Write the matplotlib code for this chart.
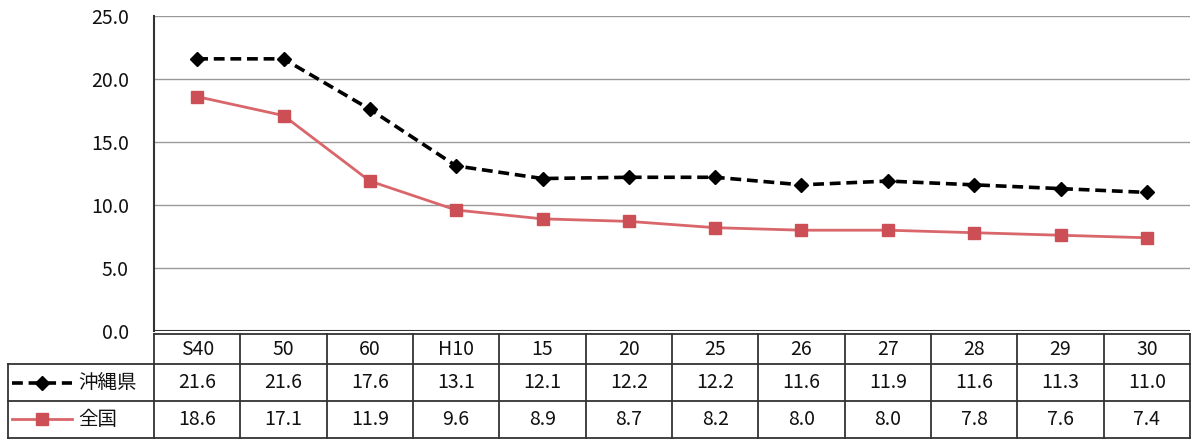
import matplotlib
matplotlib.use("Agg")
import matplotlib.pyplot as plt

plt.rcParams['font.family'] = ['Noto Sans CJK JP', 'DejaVu Sans']

categories = ["S40", "50", "60", "H10", "15", "20", "25", "26", "27", "28", "29", "30"]
okinawa = [21.6, 21.6, 17.6, 13.1, 12.1, 12.2, 12.2, 11.6, 11.9, 11.6, 11.3, 11.0]
national = [18.6, 17.1, 11.9, 9.6, 8.9, 8.7, 8.2, 8.0, 8.0, 7.8, 7.6, 7.4]
series_names = ["沖縄県", "全国"]
yticks = [0, 5, 10, 15, 20, 25]

W, H = 1194, 441
fig = plt.figure(figsize=(W / 100, H / 100), dpi=100)

def box(x0, y0, x1, y1):
    return [x0 / W, 1 - y1 / H, (x1 - x0) / W, (y1 - y0) / H]

red_line = "#D9666A"
red_mark = "#CC4F55"
fs = 14
tc = "#111111"

ax = fig.add_axes(box(154, 16, 1190, 331))
x = list(range(len(categories)))
ax.plot(x, okinawa, color="black", linestyle=(0, (3, 1.6)), linewidth=2.6,
        marker="D", markersize=7, markerfacecolor="black", zorder=3)
ax.plot(x, national, color=red_line, linewidth=2, marker="s", markersize=8.5,
        markerfacecolor=red_mark, markeredgecolor=red_mark, zorder=3)
ax.set_xlim(-0.5, len(categories) - 0.5)
ax.set_ylim(0, 25)
ax.set_yticks(yticks)
ax.set_yticklabels([f"{v:.1f}" for v in yticks], fontsize=fs, color=tc)
ax.set_xticks([])
ax.yaxis.grid(True, color="#9a9a9a", linewidth=1)
ax.set_axisbelow(True)
for s in ["top", "right", "bottom"]:
    ax.spines[s].set_visible(False)
ax.spines["left"].set_color("#333333")
ax.spines["left"].set_linewidth(1.5)
ax.axhline(0, color="#333333", linewidth=1.5, zorder=2)
ax.tick_params(axis="y", length=0, pad=18)

# Data table
tax = fig.add_axes(box(154, 334, 1190, 438))
tax.set_xlim(-0.5, len(categories) - 0.5)
tax.set_ylim(3, 0)
tax.axis("off")
n = len(categories)
col_w = 1036 / n  # pixels per column
label_left = -0.5 - (154 - 8) / col_w
rb = [0, 0.87, 1.93, 3.0]
lc = "#333333"
lw = 1.3
for yy in rb:
    tax.plot([-0.5, n - 0.5], [yy, yy], color=lc, lw=lw, clip_on=False)
for yy in rb[1:]:
    tax.plot([label_left, -0.5], [yy, yy], color=lc, lw=lw, clip_on=False)
for i in range(n + 1):
    tax.plot([i - 0.5, i - 0.5], [0, 3], color=lc, lw=lw, clip_on=False)
tax.plot([label_left, label_left], [rb[1], rb[3]], color=lc, lw=lw, clip_on=False)

for i, c in enumerate(categories):
    tax.text(i, (rb[0] + rb[1]) / 2, c, ha="center", va="center", fontsize=fs, color=tc)
    tax.text(i, (rb[1] + rb[2]) / 2, f"{okinawa[i]:.1f}", ha="center", va="center", fontsize=fs, color=tc)
    tax.text(i, (rb[2] + rb[3]) / 2, f"{national[i]:.1f}", ha="center", va="center", fontsize=fs, color=tc)

px = 1 / col_w
k0 = label_left + 4 * px
k1 = label_left + 64 * px
ym1 = (rb[1] + rb[2]) / 2
ym2 = (rb[2] + rb[3]) / 2
tax.plot([k0, k1], [ym1, ym1], color="black", linestyle=(0, (3, 1.6)), lw=2.6, clip_on=False)
tax.plot([(k0 + k1) / 2], [ym1], marker="D", color="black", markersize=7, clip_on=False)
tax.plot([k0, k1], [ym2, ym2], color=red_line, lw=2, clip_on=False)
tax.plot([(k0 + k1) / 2], [ym2], marker="s", color=red_mark, markersize=8.5, clip_on=False)
tax.text(label_left + 70 * px, ym1, series_names[0], ha="left", va="center", fontsize=fs, color=tc)
tax.text(label_left + 70 * px, ym2, series_names[1], ha="left", va="center", fontsize=fs, color=tc)

fig.savefig("out.png", dpi=100)
